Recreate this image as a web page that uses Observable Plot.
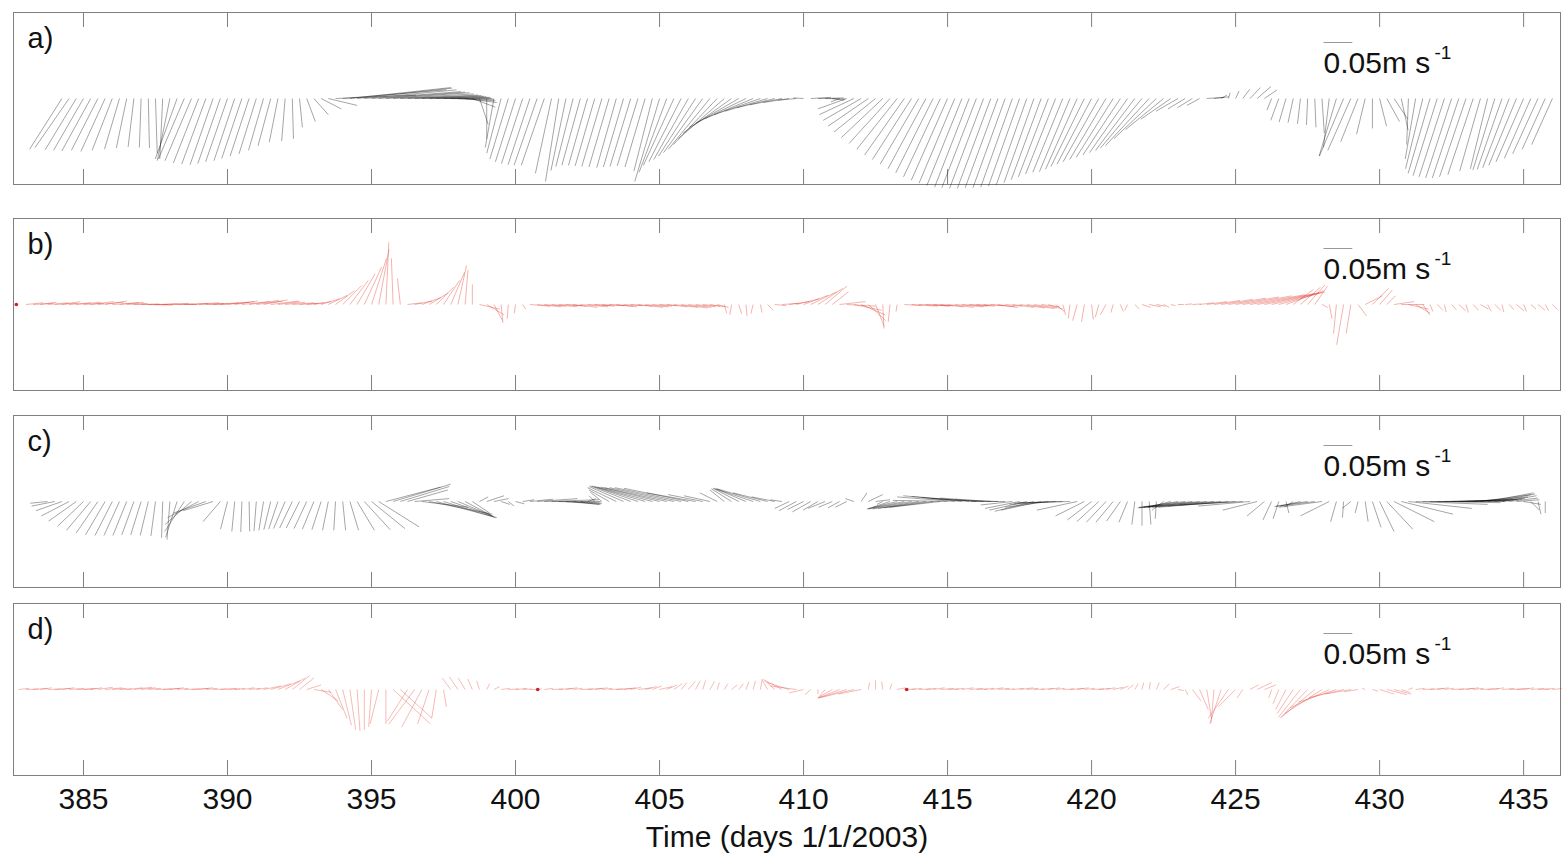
<!DOCTYPE html>
<html><head><meta charset="utf-8">
<script src="https://cdn.jsdelivr.net/npm/d3@7"></script>
<script src="https://cdn.jsdelivr.net/npm/@observablehq/plot@0.6"></script>
<style>
body{margin:0;background:#fff;font-family:"Liberation Sans",Arial,sans-serif}
#wrap{position:relative;width:1562px;height:860px;overflow:hidden;background:#fff}
#wrap svg{position:absolute;left:0}
</style></head><body><div id="wrap"></div>
<script>
// ---- data ----
const panelLabels = ["a)", "b)", "c)", "d)"];
const tickDays = [385, 390, 395, 400, 405, 410, 415, 420, 425, 430, 435];
const xLabel = "Time (days 1/1/2003)";
const scaleText = "0.05m s";
const scaleSup = "-1";
const scaleSpeed = 5; // cm/s  (0.05 m/s)
const stepDays = 0.25;

// stick velocities [u, v] in cm/s, one every stepDays from the start day
const aStart = 384.25;
const aUV = [
[-5.6,-8.8],[-5.9,-8.5],[-5.4,-8.9],[-5.2,-9.0],[-5.0,-9.1],[-4.6,-9.0],[-4.2,-9.2],[-3.5,-9.0],[-2.6,-8.8],
[-1.8,-8.6],[-1.0,-8.4],[-0.3,-8.5],[0.2,-8.6],[0.3,-9.5],[-0.5,-10.5],[-2.2,-10.8],[-3.8,-10.5],[-4.5,-10.5],[-4.6,-10.8],
[-4.4,-11.2],[-4.2,-11.4],[-4.0,-11.5],[-3.9,-11.3],[-3.8,-11.0],[-3.6,-10.8],[-3.5,-10.4],[-3.3,-10.0],[-3.0,-9.6],[-2.6,-9.0],
[-2.2,-8.2],[-1.5,-7.6],[-0.6,-7.4],[0.2,-7.0],[0.5,-5.0],[1.5,-4.0],[2.5,-2.8],[3.5,-1.8],[5.0,-1.2],[14.0,0.6],
[18.0,1.5],[17.5,1.9],[16.5,1.8],[16.0,1.5],[15.5,1.2],[15.0,1.1],[14.5,1.0],[14.0,0.8],[13.5,0.6],[12.8,0.5],
[12.0,0.4],[11.2,0.3],[10.5,0.2],[9.5,0.1],[8.5,0.0],[7.5,-0.2],[6.5,-0.4],[5.5,-0.7],[4.0,-1.5],[1.5,-4.5],
[0.0,-7.0],[-1.5,-8.5],[-2.5,-9.5],[-3.2,-10.5],[-3.5,-11.0],[-3.7,-11.3],[-3.8,-11.5],[-4.0,-11.6],[-4.0,-11.6],[-2.8,-13.0],
[-2.3,-14.4],[-2.6,-12.5],[-3.0,-11.8],[-3.2,-11.6],[-3.3,-11.6],[-3.4,-11.7],[-3.5,-11.8],[-3.5,-11.9],[-3.4,-12.0],[-3.5,-11.9],
[-3.6,-11.8],[-3.6,-11.7],[-3.5,-11.9],[-3.2,-12.6],[-4.3,-14.4],[-4.8,-12.8],[-5.3,-11.6],[-5.6,-11.0],[-6.0,-10.6],[-6.4,-10.0],
[-6.8,-9.4],[-7.2,-8.8],[-7.6,-8.0],[-8.0,-7.0],[-8.4,-6.0],[-8.6,-5.0],[-8.6,-4.2],[-8.4,-3.5],[-8.0,-2.8],[-7.4,-2.2],
[-6.6,-1.6],[-5.6,-1.1],[-4.5,-0.7],[-3.2,-0.3],[-1.8,0.1],[3.5,0.2],[4.5,0.1],[3.5,-0.1],[2.0,-0.3],[-1.5,-0.6],
[-5.0,-1.8],[-6.0,-2.8],[-6.6,-3.8],[-7.0,-4.8],[-7.2,-5.8],[-7.2,-6.8],[-7.1,-7.8],[-7.0,-8.8],[-6.9,-9.8],[-6.8,-10.6],
[-6.7,-11.4],[-6.6,-12.2],[-6.5,-12.9],[-6.4,-13.6],[-6.3,-14.2],[-6.2,-14.7],[-6.1,-15.1],[-6.0,-15.4],[-6.0,-15.5],[-5.9,-15.6],
[-5.8,-15.6],[-5.7,-15.5],[-5.6,-15.5],[-5.5,-15.4],[-5.4,-15.2],[-5.3,-15.0],[-5.2,-14.6],[-5.2,-14.1],[-5.2,-13.6],[-5.2,-13.1],
[-5.2,-12.8],[-5.3,-12.7],[-5.5,-12.3],[-5.8,-11.8],[-6.0,-11.4],[-6.2,-11.0],[-6.3,-10.6],[-6.4,-10.2],[-6.5,-9.8],[-6.6,-9.4],
[-6.8,-9.0],[-7.2,-8.6],[-7.6,-8.2],[-7.4,-7.0],[-6.6,-5.4],[-5.2,-3.6],[-3.8,-2.2],[-3.0,-1.8],[-2.6,-1.6],[-2.2,-1.2],
[3.0,0.2],[2.6,0.3],[1.0,0.6],[0.3,1.0],[0.6,1.3],[1.2,1.6],[1.8,1.9],[2.4,2.1],[2.2,1.5],[-0.8,-2.0],
[-1.4,-3.8],[-1.2,-4.1],[-0.9,-4.2],[-0.5,-4.4],[-0.2,-4.6],[0.2,-5.0],[0.4,-6.0],[-1.0,-8.5],[-3.0,-10.0],[-4.2,-10.0],
[-4.0,-9.0],[-3.0,-7.5],[-1.5,-6.2],[0.0,-5.2],[1.2,-4.8],[2.2,-4.0],[2.4,-3.6],[1.2,-5.5],[-0.3,-8.0],[-1.8,-10.5],
[-3.0,-12.2],[-3.8,-13.0],[-4.2,-13.4],[-4.4,-13.6],[-4.5,-13.8],[-4.6,-13.8],[-4.6,-13.6],[-4.4,-13.2],[-3.6,-12.6],[-3.0,-12.2],
[-3.8,-12.4],[-4.3,-12.3],[-4.6,-12.0],[-4.8,-11.6],[-4.8,-11.0],[-4.6,-10.4],[-4.4,-9.6],[-4.0,-8.8],[-3.6,-8.0]
];

const bStart = 383.0;
const bUV = [
[3.0,0.3],[3.5,0.2],[2.8,0.4],[3.6,0.3],[4.0,0.2],[3.2,0.5],[3.8,0.3],[4.2,0.4],[3.5,0.2],[4.0,0.5],
[4.5,0.4],[3.8,0.6],[4.6,0.3],[4.2,0.4],[3.6,0.2],[4.4,0.1],[4.8,0.0],[4.2,-0.1],[3.8,0.1],[4.5,0.2],
[4.0,0.1],[3.5,0.0],[4.2,0.2],[4.8,0.3],[4.4,0.2],[3.8,0.1],[4.5,0.3],[5.0,0.4],[4.6,0.5],[4.0,0.6],
[4.8,0.5],[5.2,0.7],[4.6,0.6],[4.2,0.8],[4.8,0.6],[3.8,0.5],[3.5,0.4],[3.8,0.3],[3.2,0.2],[3.0,0.3],
[3.0,0.5],[3.2,1.0],[3.3,1.6],[3.3,2.4],[3.3,3.3],[3.2,4.2],[3.1,5.3],[3.0,6.5],[2.6,8.0],[1.8,9.6],
[0.5,10.8],[-0.3,8.0],[-0.5,4.5],[2.5,0.3],[3.0,0.6],[3.3,1.2],[3.3,2.0],[3.0,3.0],[2.8,4.2],[2.4,5.6],
[1.5,6.8],[0.5,6.0],[0.0,3.5],[3.5,-0.8],[3.0,-1.8],[1.5,-2.8],[0.3,-3.2],[-0.2,-2.5],[-0.2,-1.5],[0.5,-0.8],
[3.5,-0.3],[4.2,-0.4],[3.8,-0.3],[4.5,-0.4],[4.0,-0.2],[3.6,-0.3],[4.2,-0.5],[4.8,-0.4],[4.0,-0.2],[3.5,-0.3],
[3.8,-0.2],[4.2,-0.3],[3.6,-0.4],[3.2,-0.2],[3.8,-0.3],[4.4,-0.5],[4.0,-0.4],[3.4,-0.3],[3.0,-0.2],[3.6,-0.4],
[4.2,-0.5],[4.6,-0.6],[4.0,-0.5],[3.5,-0.4],[3.0,-0.3],[2.5,-0.4],[2.0,-0.5],[0.4,-1.5],[-0.3,-1.8],[0.5,-1.6],
[0.2,-2.0],[-0.4,-1.6],[0.3,-1.4],[1.0,-1.0],[2.0,-0.2],[3.0,0.2],[3.5,0.5],[4.0,1.0],[4.3,1.6],[4.5,2.2],
[4.3,2.8],[3.8,3.2],[2.8,2.2],[4.5,0.5],[5.0,-0.3],[4.8,-1.0],[4.2,-1.8],[3.0,-2.8],[1.5,-3.8],[0.2,-4.2],
[-0.3,-3.0],[-0.2,-1.2],[3.0,-0.2],[4.5,-0.3],[5.0,-0.2],[4.2,-0.3],[3.5,-0.2],[4.0,-0.4],[4.6,-0.5],[5.0,-0.4],
[4.4,-0.3],[3.8,-0.2],[3.2,-0.3],[3.6,-0.2],[4.2,-0.4],[3.5,-0.5],[3.0,-0.3],[3.8,-0.5],[4.4,-0.6],[4.8,-0.7],
[4.0,-0.6],[3.2,-0.4],[2.5,-0.8],[1.5,-1.2],[0.5,-1.8],[-0.3,-2.4],[-0.8,-2.8],[-0.5,-3.0],[0.3,-2.6],[-0.6,-2.2],
[-1.0,-1.8],[-0.4,-1.4],[0.5,-1.2],[-0.5,-1.0],[0.8,-0.8],[1.5,-0.5],[2.0,-0.4],[1.5,-0.3],[1.0,-0.5],[0.8,-0.2],
[1.0,0.0],[1.2,0.1],[1.5,0.1],[2.5,0.3],[3.5,0.5],[4.5,0.7],[5.5,0.9],[6.5,1.1],[7.5,1.3],[8.5,1.5],
[9.5,1.7],[10.0,1.9],[9.5,2.0],[8.8,2.1],[8.0,2.2],[6.5,2.4],[3.5,2.6],[3.5,3.0],[3.0,3.4],[2.2,3.2],
[1.0,-0.5],[0.5,-2.5],[-0.5,-5.0],[-1.2,-7.0],[-0.8,-5.0],[1.5,-2.0],[3.0,1.5],[2.8,2.8],[2.2,2.5],[1.5,1.5],
[3.5,0.5],[4.0,0.0],[3.5,-0.8],[2.5,-1.5],[1.2,-1.8],[0.5,-1.2],[1.0,-1.0],[0.3,-1.3],[0.8,-0.9],[1.2,-1.1],
[0.4,-1.4],[0.9,-1.0],[1.4,-0.8],[0.6,-1.2],[1.0,-1.0],[0.3,-1.3],[0.8,-0.9],[1.3,-1.1],[0.5,-1.2],[0.9,-0.8],
[1.2,-1.0],[0.6,-1.1],[0.9,-0.9]
];

const cStart = 383.75;
const cUV = [
[-3.0,-0.3],[-4.0,-0.8],[-4.5,-1.6],[-4.8,-2.5],[-4.8,-3.4],[-4.5,-4.3],[-4.2,-5.0],[-3.8,-5.5],[-3.4,-5.8],[-3.0,-5.9],
[-2.7,-5.9],[-2.4,-5.9],[-2.1,-5.8],[-1.8,-5.8],[-1.4,-5.9],[-0.8,-6.0],[-0.2,-6.3],[-0.5,-6.6],[-2.0,-6.2],[-3.4,-5.2],
[-4.6,-4.0],[-5.4,-2.8],[-5.6,-2.0],[-5.2,-1.6],[-3.0,-3.5],[-1.2,-4.8],[-0.5,-5.2],[-0.2,-5.3],[0.1,-5.2],[-0.4,-5.1],
[-0.8,-5.0],[-1.2,-4.9],[-1.6,-4.8],[-2.0,-4.7],[-2.2,-4.6],[-2.3,-4.6],[-2.2,-4.7],[-2.0,-4.8],[-1.6,-4.9],[-1.0,-5.0],
[-0.3,-5.0],[0.5,-5.0],[1.5,-5.0],[3.0,-5.0],[4.5,-4.9],[5.8,-4.7],[7.0,-4.4],[9.5,2.5],[10.0,3.0],[8.5,2.6],
[7.0,2.0],[6.0,0.5],[8.0,-1.0],[11.0,-2.2],[10.5,-2.8],[9.0,-2.8],[7.5,-2.6],[6.0,-2.5],[4.5,-2.4],[3.0,-2.0],
[1.5,0.8],[3.0,1.0],[2.5,0.5],[1.5,-0.5],[1.0,-0.8],[1.5,-0.4],[2.0,0.3],[4.0,0.4],[7.0,0.5],[9.5,0.3],
[8.5,0.0],[7.5,-0.3],[6.0,-0.5],[4.5,-0.5],[3.5,-0.3],[1.5,0.5],[-1.0,1.0],[-2.0,1.6],[-3.5,2.0],[-5.0,2.4],
[-6.0,2.6],[-7.0,2.7],[-8.0,2.7],[-8.8,2.6],[-9.5,2.5],[-10.2,2.5],[-10.8,2.4],[-11.2,2.4],[-11.5,2.4],[-11.2,2.3],
[-8.5,1.5],[-6.0,1.2],[-4.5,1.0],[-3.0,1.5],[-2.5,2.0],[-3.5,2.2],[-4.5,2.3],[-5.5,2.3],[-6.5,2.2],[-7.5,2.2],
[-6.0,1.5],[-4.0,0.8],[-2.0,0.3],[-2.5,-1.2],[-3.0,-1.6],[-2.8,-1.4],[-3.2,-1.8],[-2.6,-1.5],[-3.0,-1.2],[-2.4,-1.0],
[-2.0,-1.1],[-2.0,-1.0],[-1.5,0.5],[1.0,1.5],[2.5,1.2],[2.5,0.3],[-1.0,-0.5],[-3.0,-1.0],[-5.0,-1.2],[-6.5,-1.3],
[-7.5,-1.3],[-8.0,-1.3],[-8.3,-1.2],[-8.5,-1.1],[-8.8,-1.0],[-9.5,0.2],[-10.0,0.8],[-10.2,1.0],[-10.0,0.9],[-9.5,0.7],
[-9.0,0.5],[-8.8,0.6],[-7.5,0.3],[-6.0,0.0],[-5.5,-0.6],[-6.0,-1.2],[-6.5,-1.5],[-6.8,-1.7],[-7.0,-1.5],[-7.5,-1.0],
[-8.0,-0.5],[-8.5,-0.3],[-9.0,-0.2],[-7.0,-1.5],[-5.0,-2.5],[-4.2,-3.2],[-3.8,-3.5],[-3.4,-3.6],[-3.0,-3.6],[-2.4,-3.4],
[-1.5,-3.6],[-0.5,-4.0],[0.0,-4.2],[0.3,-4.0],[-0.2,-3.0],[-2.0,-1.5],[-4.0,-1.0],[-6.0,-1.0],[-8.0,-1.0],[-9.5,-1.1],
[-10.5,-1.1],[-11.0,-1.0],[-11.5,-1.0],[-12.0,-1.0],[-12.2,-1.0],[-11.8,-0.8],[-11.0,-0.6],[-9.0,-0.8],[-6.0,-1.5],[-3.0,-2.5],
[-1.5,-3.2],[-1.0,-3.0],[0.5,-2.0],[-1.5,-1.0],[-3.5,-0.8],[-5.5,-0.8],[-7.0,-0.9],[-7.5,-1.0],[-5.0,-2.5],[-1.0,-3.5],
[-0.2,-2.8],[-1.5,-1.2],[-0.5,-2.0],[0.5,-3.5],[1.5,-4.5],[2.5,-5.2],[4.5,-4.8],[7.0,-3.5],[9.0,-2.2],[11.0,-1.2],
[12.5,-0.5],[13.5,-0.2],[13.0,0.0],[12.5,0.1],[12.0,0.2],[11.5,0.3],[11.0,0.4],[10.2,0.5],[9.5,0.8],[8.8,1.2],
[8.0,1.5],[7.0,1.3],[6.0,1.0],[5.0,0.6],[4.0,0.3],[3.0,-0.5],[1.5,-1.5],[0.5,-2.2],[0.0,-2.0]
];

const dStart = 382.75;
const dUV = [
[1.8,0.2],[2.2,0.1],[2.5,0.2],[2.0,0.3],[2.4,0.1],[2.8,0.2],[2.2,0.3],[2.6,0.2],[3.0,0.1],[2.4,0.2],
[2.0,0.3],[2.6,0.4],[3.0,0.3],[2.5,0.2],[2.2,0.1],[2.8,0.3],[3.2,0.4],[2.6,0.3],[2.2,0.2],[2.8,0.1],
[3.0,0.2],[2.4,0.3],[2.0,0.2],[2.6,0.1],[3.0,0.2],[2.5,0.3],[2.0,0.2],[2.4,0.1],[2.8,0.2],[2.2,0.1],
[1.8,0.2],[2.2,0.3],[2.0,0.2],[2.0,0.3],[3.0,0.6],[3.5,1.0],[3.8,1.5],[3.5,2.0],[3.0,2.4],[2.5,2.0],
[2.5,0.8],[3.0,-0.5],[3.0,-2.0],[2.5,-3.5],[2.0,-5.0],[1.5,-6.2],[1.0,-7.0],[0.5,-7.2],[0.0,-7.0],[-0.5,-6.5],
[-1.5,-6.0],[0.0,-6.0],[6.5,-6.0],[5.5,-5.0],[-3.5,-5.5],[-4.5,-6.0],[-3.5,-6.5],[-2.0,-6.0],[-0.8,-5.0],[0.5,-3.0],
[-1.5,2.0],[-1.5,2.2],[-1.2,2.0],[-0.8,1.8],[-0.5,1.5],[0.5,1.0],[1.0,0.5],[1.5,0.2],[1.8,0.1],[2.0,0.2],
[1.6,0.1],[1.2,0.0],[0.8,0.1],[1.5,0.2],[2.0,0.1],[2.4,0.2],[2.0,0.3],[1.6,0.2],[2.2,0.1],[2.6,0.2],
[2.2,0.3],[1.8,0.2],[2.4,0.1],[2.8,0.2],[2.2,0.3],[1.8,0.4],[2.4,0.3],[2.0,0.5],[1.6,0.6],[2.2,0.5],
[1.8,0.8],[1.4,1.0],[1.0,1.2],[1.2,1.4],[0.8,1.5],[0.5,1.6],[0.8,1.4],[0.4,1.2],[0.6,1.0],[1.0,0.8],
[0.8,1.0],[0.5,1.3],[0.4,1.5],[0.3,1.6],[-1.0,1.8],[-2.0,1.8],[-3.0,1.6],[-3.8,1.2],[-4.5,0.6],[-2.5,-0.6],
[-1.0,-0.9],[0.0,-0.8],[-1.0,-1.2],[-2.5,-1.4],[-3.8,-1.5],[-5.0,-1.5],[-5.8,-1.4],[-4.0,-0.8],[0.2,1.2],[0.0,1.6],
[-0.2,1.4],[0.3,1.0],[1.5,0.3],[2.0,0.1],[1.8,0.2],[2.2,0.1],[1.8,0.2],[2.0,0.3],[2.4,0.2],[2.0,0.1],
[1.6,0.2],[2.0,0.3],[2.4,0.2],[2.0,0.1],[1.8,0.2],[2.2,0.3],[2.0,0.2],[1.6,0.1],[2.0,0.2],[2.4,0.3],
[2.0,0.2],[1.8,0.1],[2.2,0.2],[2.0,0.3],[1.6,0.2],[2.0,0.1],[2.4,0.2],[2.0,0.3],[1.8,0.2],[2.2,0.1],
[2.0,0.2],[1.6,0.3],[1.8,0.4],[1.4,0.6],[1.0,0.8],[0.6,1.0],[0.3,1.2],[0.2,1.3],[0.5,1.2],[1.0,1.0],
[1.5,0.5],[1.0,-0.2],[0.5,-1.0],[1.5,-2.0],[1.5,-3.5],[0.8,-5.0],[-0.5,-5.8],[-2.0,-6.0],[-3.5,-5.0],[-3.0,-3.0],
[-1.0,-1.5],[1.5,0.8],[2.5,1.2],[2.0,0.8],[-0.5,-1.5],[-1.0,-2.5],[-1.8,-3.5],[-2.8,-4.2],[-3.8,-4.8],[-4.8,-5.0],
[-5.8,-4.8],[-6.5,-4.2],[-6.8,-3.2],[-6.6,-2.2],[-6.0,-1.4],[-4.5,-0.8],[-2.5,-0.4],[-0.5,0.2],[1.0,-0.3],[2.5,-0.8],
[3.5,-0.9],[3.0,-0.8],[1.5,-0.5],[0.8,0.3],[1.6,0.2],[2.0,0.1],[2.4,0.2],[2.0,0.3],[1.6,0.2],[2.2,0.1],
[2.6,0.2],[2.2,0.3],[1.8,0.2],[2.4,0.1],[2.0,0.2],[1.6,0.3],[2.2,0.2],[2.6,0.1],[2.2,0.2],[1.8,0.3],
[2.4,0.2],[2.0,0.1],[1.6,0.2],[2.0,0.2]
];

// isolated red markers (day, panel index)
const markerDays = [382.67, 400.77, 413.58];
const markerPanels = [1, 3, 3];

// ---- drawing ----
const W = 1562, frameH = 172;
const frameTops = [12, 218, 415, 603];
const mLeft = 13, mRight = 2;
const xDomain = [382.57, 436.28];
const pxPerDay = (W - mLeft - mRight) / (xDomain[1] - xDomain[0]);
const daysPerCms = 0.2;                 // equal aspect: 5 cm/s == 1 day
const pxPerCms = pxPerDay * daysPerCms;
const yHalf = (frameH / 2) / pxPerCms;
const tickLen = 15 / pxPerCms;
const grey = "#808080";
const font = "Liberation Sans, Arial, Helvetica, sans-serif";

const panelsSpec = [
  {start: aStart, uv: aUV, color: "#000000", op: 0.42},
  {start: bStart, uv: bUV, color: "#e0342a", op: 0.45},
  {start: cStart, uv: cUV, color: "#000000", op: 0.42},
  {start: dStart, uv: dUV, color: "#e0342a", op: 0.40}
];

const wrap = document.getElementById("wrap");
panelsSpec.forEach((p, i) => {
  const rows = p.uv.map(([u, v], k) => ({t: p.start + k * stepDays, u, v}));
  const last = i === 3;
  const mt = 14, mb = last ? 860 - (frameTops[3] + frameH) : 14;
  const barY = yHalf - 30 / pxPerCms;
  const barT = xDomain[0] + (1323 - mLeft) / pxPerDay;
  const dots = markerDays.map((t, k) => ({t, panel: markerPanels[k]})).filter(d => d.panel === i);
  const marks = [
    Plot.frame({stroke: grey, strokeWidth: 1}),
    Plot.ruleX(tickDays, {y1: -yHalf, y2: -yHalf + tickLen, stroke: grey, strokeWidth: 1}),
    Plot.ruleX(tickDays, {y1: yHalf - tickLen, y2: yHalf, stroke: grey, strokeWidth: 1}),
    Plot.link(rows, {
      x1: "t", y1: () => 0,
      x2: d => d.t + d.u * daysPerCms, y2: "v",
      stroke: p.color, strokeOpacity: p.op, strokeWidth: 0.85
    }),
    Plot.dot(dots, {x: "t", y: () => 0, r: 1.8, fill: "#cc1f1f", stroke: null}),
    Plot.link([scaleSpeed], {
      x1: () => barT, x2: d => barT + d * daysPerCms,
      y1: () => barY, y2: () => barY, stroke: "#999", strokeWidth: 1
    }),
    Plot.text([panelLabels[i]], {frameAnchor: "top-left", dx: 14, dy: 35, textAnchor: "start", lineAnchor: "bottom", fontSize: 29, fill: "#111"}),
    Plot.text([scaleText], {x: () => barT, frameAnchor: "top", dy: 60, textAnchor: "start", lineAnchor: "bottom", fontSize: 30, fill: "#111"}),
    Plot.text([scaleSup], {x: () => barT, frameAnchor: "top", dx: 111, dy: 46, textAnchor: "start", lineAnchor: "bottom", fontSize: 19, fill: "#111"})
  ];
  if (last) {
    marks.push(Plot.axisX(tickDays, {anchor: "bottom", tickSize: 0, tickPadding: 12, fontSize: 30, label: null, tickFormat: d => String(d), fill: "#111"}));
    marks.push(Plot.text([xLabel], {frameAnchor: "bottom", dy: 62, lineAnchor: "middle", fontSize: 30, fill: "#111"}));
  }
  const svg = Plot.plot({
    width: W, height: mt + frameH + mb,
    marginLeft: mLeft, marginRight: mRight, marginTop: mt, marginBottom: mb,
    x: {domain: xDomain, axis: null},
    y: {domain: [-yHalf, yHalf], axis: null},
    style: {fontFamily: font, background: "transparent", overflow: "visible"},
    marks
  });
  svg.style.top = (frameTops[i] - mt) + "px";
  wrap.appendChild(svg);
});
</script></body></html>
